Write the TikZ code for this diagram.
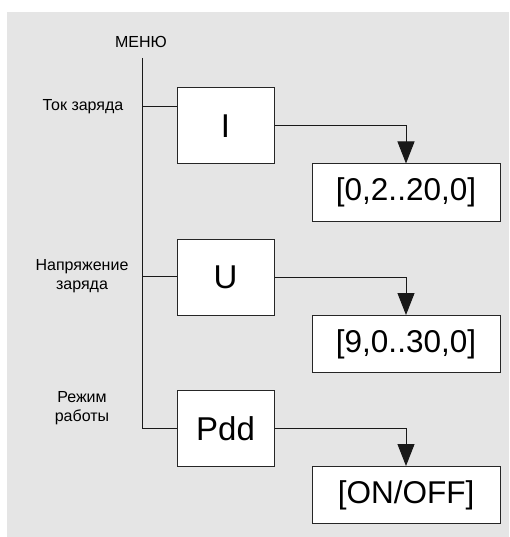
\documentclass[tikz,border=0pt]{standalone}
\usepackage{fontspec}
\setmainfont{Liberation Sans}
\usetikzlibrary{arrows.meta}
\definecolor{panel}{HTML}{E5E5E5}
\tikzset{
  menubox/.style={draw=black!85, fill=white, line width=1pt, inner sep=0pt,
    minimum width=97pt, minimum height=76pt, font=\fontsize{33}{33}\selectfont},
  valbox/.style={draw=black!85, fill=white, line width=1pt, inner sep=0pt,
    minimum width=188pt, minimum height=57pt, font=\fontsize{31.5}{31.5}\selectfont},
  lbl/.style={align=center, inner sep=0pt, font=\fontsize{16}{18.5}\selectfont},
  wire/.style={line width=1pt, draw=black!90},
  feed/.style={wire, -{Triangle[length=22pt,width=17pt]}},
}
\begin{document}
\begin{tikzpicture}[x=1pt, y=-1pt]
  \useasboundingbox (0,0) rectangle (510,537);
  \fill[panel] (7,12) rectangle (509,537);

  % menu header and trunk
  \node[lbl] (menu) at (141,42) {МЕНЮ};
  \coordinate (top) at (142,58);
  \coordinate (bot) at (142,428);

  % first level entries
  \node[menubox] (I)   at (225.5,126)   {I};
  \node[menubox] (U)   at (225.5,277)   {U};
  \node[menubox] (Pdd) at (225.5,428.5) {Pdd};

  % value ranges
  \node[valbox] (Iv) at (406,192.5) {[0,2..20,0]};
  \node[valbox] (Uv) at (406,344)   {[9,0..30,0]};
  \node[valbox] (Pv) at (406,495)   {[ON/OFF]};

  % entry captions
  \node[lbl] (lI) at (83,107) {Ток заряда};
  \node[lbl] (lU) at (82,276) {Напряжение\\заряда};
  \node[lbl] (lP) at (82,408) {Режим\\работы};

  % taps from the trunk
  \coordinate (tI) at (142,107);
  \coordinate (tU) at (142,276);
  \draw[wire] (top) -- (bot) -- (bot -| Pdd.west);
  \draw[wire] (tI) -- (tI -| I.west);
  \draw[wire] (tU) -- (tU -| U.west);

  % links to the value ranges
  \draw[feed] (I.east) -| (Iv.north);
  \draw[feed] (U.east) -| (Uv.north);
  \draw[feed] (Pdd.east) -| (Pv.north);
\end{tikzpicture}
\end{document}
